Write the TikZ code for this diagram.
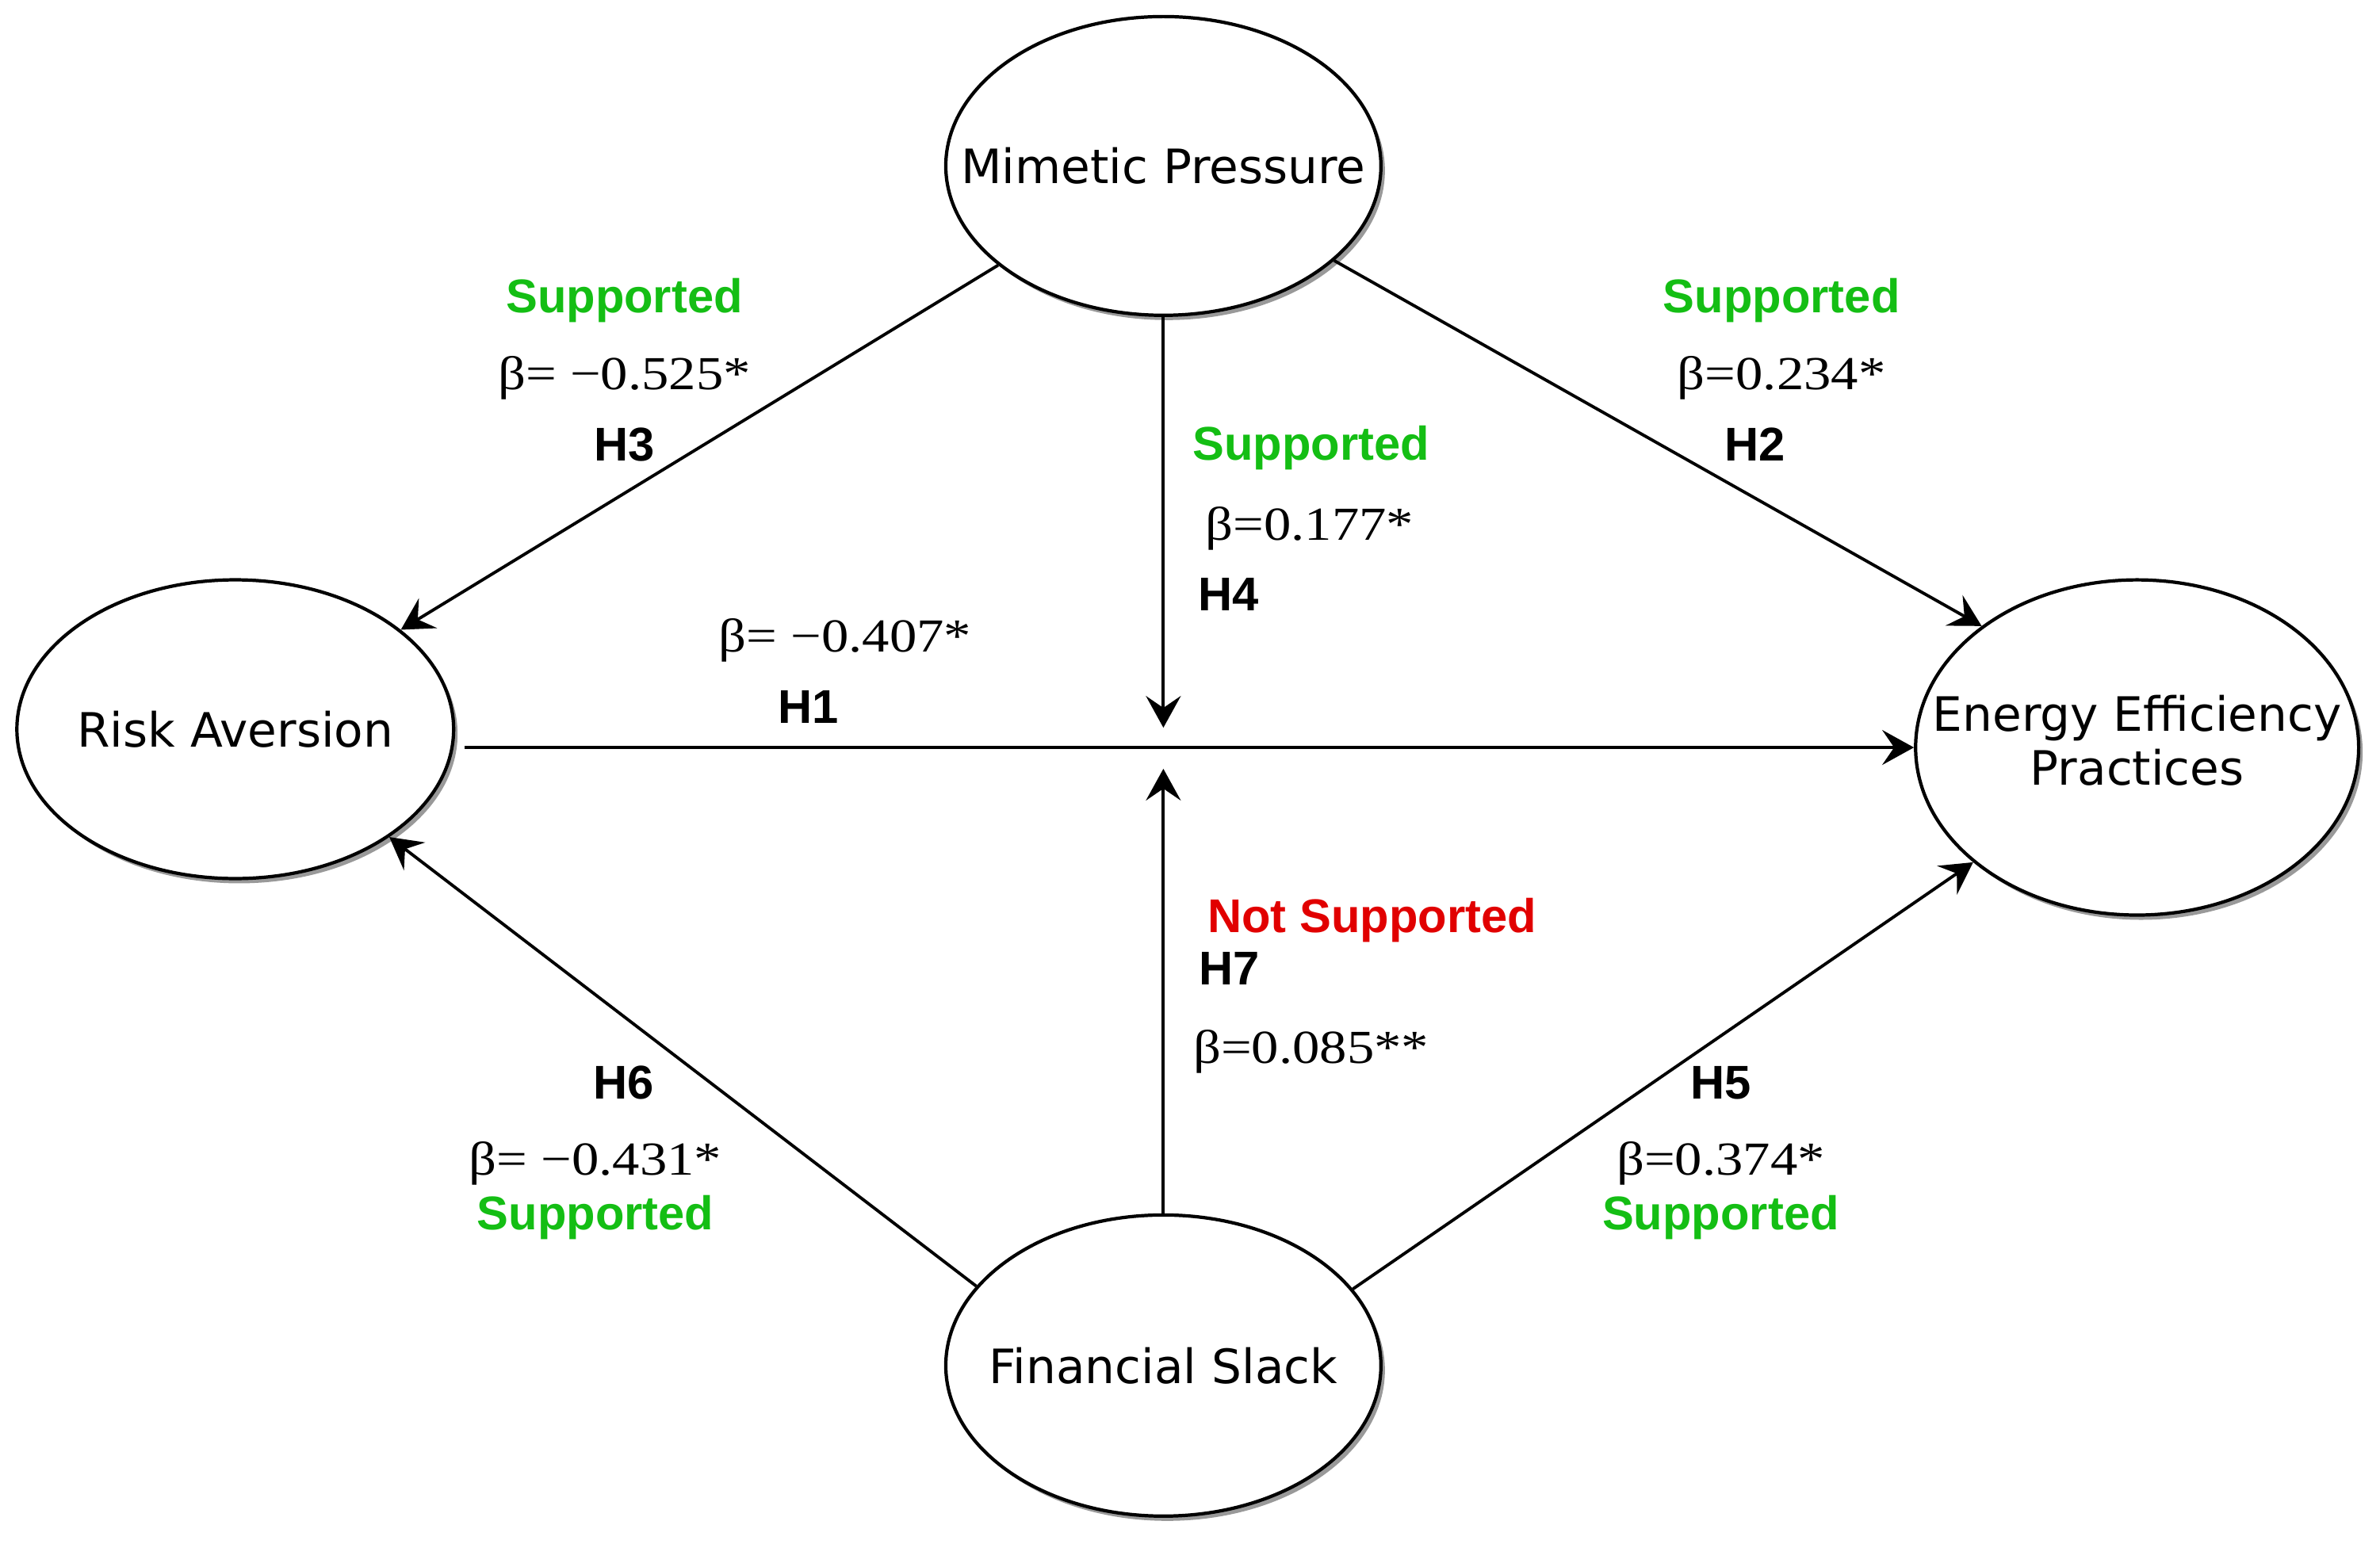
\documentclass[tikz,border=0pt]{standalone}
\usepackage{fontspec}
\setmainfont{DejaVu Sans}
\newfontfamily\hypfont{Liberation Sans}
\newfontfamily\coeffont[FakeStretch=1.15]{Liberation Serif}
\usetikzlibrary{arrows.meta, shapes.geometric, shadows, calc}
\usepackage{xcolor}
\definecolor{supgreen}{RGB}{20, 190, 20}
\definecolor{nsred}{RGB}{225, 0, 0}
\newcommand{\inell}[1]{\makebox[0pt]{#1}}

\begin{document}
\begin{tikzpicture}[
    x=0.019207cm, y=-0.019207cm,
    % 潜变量样式
    latent/.style={
        ellipse, draw=black, line width=1.2pt, fill=white, inner sep=0pt,
        minimum width=5.49cm, minimum height=3.77cm,
        font=\fontsize{17}{19.4}\selectfont,
        drop shadow={shadow xshift=0.05cm, shadow yshift=-0.06cm, fill=black!40, opacity=1}
    },
    % 箭头样式
    arrow/.style={-{Stealth[length=4mm, width=4.4mm, inset=1.5mm]}, line width=1.1pt},
    % 标签样式
    hyp/.style={anchor=base, inner sep=0pt, font=\hypfont\bfseries\fontsize{17}{20}\selectfont},
    sup/.style={hyp, text=supgreen},
    notsup/.style={hyp, text=nsred},
    coef/.style={anchor=base, inner sep=0pt, font=\coeffont\fontsize{17}{20}\selectfont},
]
\useasboundingbox (0,0) rectangle (1563,1014);

% ==================== 构念 ====================
\node[latent] (MP) at (764,109) {\inell{Mimetic Pressure}};
\node[latent, minimum width=5.51cm] (RA) at (154.5,479) {\inell{Risk Aversion}};
\node[latent, minimum width=5.59cm, minimum height=4.23cm] (EEP) at (1403.5,491)
    {\inell{\raisebox{-1.1pt}{\begin{tabular}{@{}c@{}}Energy Efficiency\\Practices\end{tabular}}}};
\node[latent, minimum height=3.80cm] (FS) at (764,897) {\inell{Financial Slack}};

% 调节效应落点
\coordinate (mod) at (MP.south |- EEP.west);
\coordinate (modtop) at ($(mod)+(0,-13)$);
\coordinate (modbot) at ($(mod)+(0,14)$);

% ==================== 路径箭头 ====================
\draw[arrow] (MP.211.3) -- (RA.31.4);
\draw[arrow] (MP.331.5) -- (EEP.142.6);
\draw[arrow] (MP.south) -- (modtop);
\draw[arrow, shorten <=1.2mm] (RA.east |- EEP.west) -- (EEP.west);
\draw[arrow] (FS.north) -- (modbot);
\draw[arrow] (FS.157.6) -- (RA.325.1);
\draw[arrow] (FS.22.4) -- (EEP.215);

% ==================== 假设标签 ====================
% H3
\node[sup] (h3s) at (410,205.6) {Supported};
\node[coef] (h3b) at (410,256) {β= −0.525*};
\node[hyp] (h3) at (410,303) {H3};
% H2
\node[sup] (h2s) at (1170,205.6) {Supported};
\node[coef] (h2b) at (1170,256) {β=0.234*};
\node[hyp] (h2) at (1152.5,303) {H2};
% H4
\node[sup] (h4s) at (861,302) {Supported};
\node[coef] (h4b) at (860,355) {β=0.177*};
\node[hyp] (h4) at (807,401) {H4};
% H1
\node[coef] (h1b) at (555,428) {β= −0.407*};
\node[hyp] (h1) at (531,475) {H1};
% H7
\node[notsup] (h7s) at (901,612.5) {Not Supported};
\node[hyp] (h7) at (807.5,647) {H7};
\node[coef] (h7b) at (861,698.5) {β=0.085**};
% H6
\node[hyp] (h6) at (409.5,722) {H6};
\node[coef] (h6b) at (391,772) {β= −0.431*};
\node[sup] (h6s) at (391,808) {Supported};
% H5
\node[hyp] (h5) at (1130,722) {H5};
\node[coef] (h5b) at (1130,772) {β=0.374*};
\node[sup] (h5s) at (1130,808) {Supported};

\end{tikzpicture}
\end{document}
